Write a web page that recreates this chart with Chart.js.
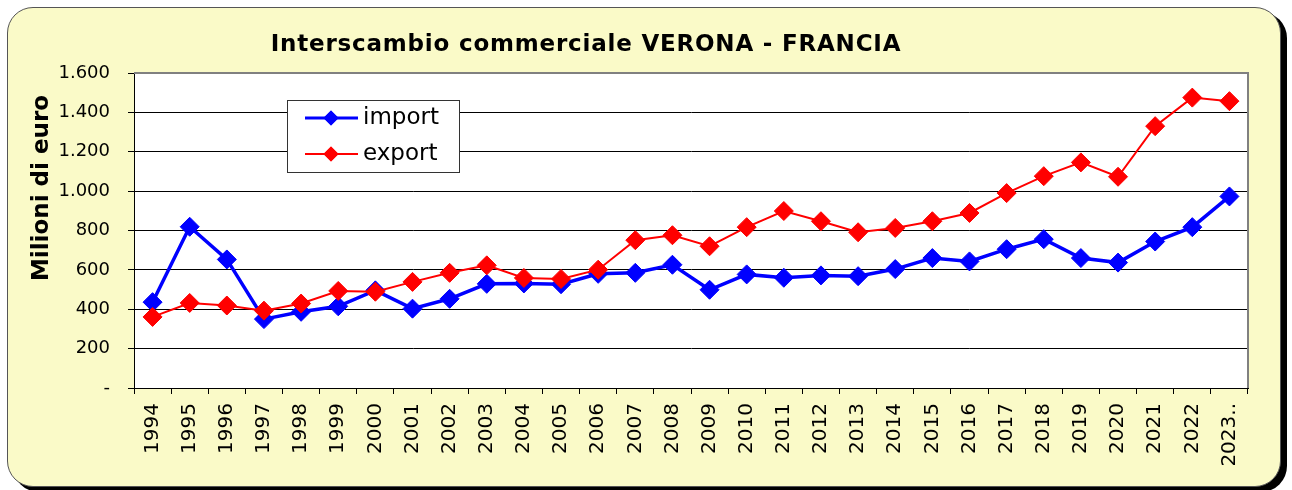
<!DOCTYPE html>
<html>
<head>
<meta charset="utf-8">
<script src="https://cdn.jsdelivr.net/npm/chart.js@4.4.1/dist/chart.umd.min.js"></script>
<style>
  html, body { margin: 0; padding: 0; background: #fff; }
  #frame {
    position: absolute; left: 7px; top: 7px; width: 1272px; height: 478px;
    background: #fafac8; border: 1px solid #555; border-radius: 26px;
    box-shadow: 6px 5px 0 #000;
  }
  #wrap { position: absolute; left: 0; top: 0; width: 1292px; height: 490px; }
</style>
</head>
<body>
<div id="frame"></div>
<div id="wrap"><canvas id="chart" width="1292" height="490"></canvas></div>
<script>
// --- data ---
const years = ['1994', '1995', '1996', '1997', '1998', '1999', '2000', '2001', '2002', '2003',
  '2004', '2005', '2006', '2007', '2008', '2009', '2010', '2011', '2012', '2013',
  '2014', '2015', '2016', '2017', '2018', '2019', '2020', '2021', '2022', '2023..'];

const importValues = [436, 819, 653, 350, 387, 415, 496, 403, 453, 529,
  531, 527, 580, 585, 626, 499, 577, 560, 572, 568,
  604, 660, 643, 705, 756, 660, 637, 744, 817, 973];

const exportValues = [361, 432, 419, 393, 429, 493, 489, 539, 585, 623,
  559, 554, 601, 751, 776, 720, 817, 899, 847, 791,
  813, 847, 889, 990, 1076, 1146, 1073, 1330, 1475, 1457];

const seriesNames = ['import', 'export'];
const seriesColors = ['#0000ff', '#ff0000'];

const chartTitle = 'Interscambio commerciale VERONA - FRANCIA';
const yTitle = 'Milioni di euro';

const FONT = 'DejaVu Sans, Verdana, sans-serif';

function itNumber(v) {
  if (v === 0) return '-';
  return String(v).replace(/\B(?=(\d{3})+(?!\d))/g, '.');
}

// white plot area + grey frame on top/right
const plotArea = {
  id: 'plotArea',
  beforeDraw(chart) {
    const { ctx, chartArea: a } = chart;
    ctx.save();
    ctx.fillStyle = '#fff';
    ctx.fillRect(a.left, a.top, a.right - a.left, a.bottom - a.top);
    ctx.restore();
  },
  beforeDatasetsDraw(chart) {
    const { ctx, chartArea: a } = chart;
    ctx.save();
    ctx.strokeStyle = '#808080';
    ctx.lineWidth = 2;
    ctx.beginPath();
    ctx.moveTo(a.left, a.top);
    ctx.lineTo(a.right, a.top);
    ctx.lineTo(a.right, a.bottom);
    ctx.stroke();
    ctx.restore();
  }
};

// titles: chart title is letter-spaced and off-centre, y title sits high
const titles = {
  id: 'titles',
  afterDraw(chart) {
    const ctx = chart.ctx;
    ctx.save();
    ctx.fillStyle = '#000';
    ctx.textAlign = 'center';
    ctx.textBaseline = 'middle';
    ctx.font = 'bold 23px ' + FONT;
    ctx.letterSpacing = '0.8px';
    ctx.fillText(chartTitle, 586, 45);
    ctx.letterSpacing = '0px';
    ctx.translate(42, 188);
    ctx.rotate(-Math.PI / 2);
    ctx.font = 'bold 23px ' + FONT;
    ctx.fillText(yTitle, 0, 0);
    ctx.restore();
  }
};

// boxed legend inside the plot
const boxLegend = {
  id: 'boxLegend',
  afterDraw(chart) {
    const ctx = chart.ctx;
    const x = 287, y = 100, w = 172, h = 72;
    ctx.save();
    ctx.fillStyle = '#fff';
    ctx.fillRect(x, y, w, h);
    ctx.strokeStyle = '#333';
    ctx.lineWidth = 1;
    ctx.strokeRect(x + 0.5, y + 0.5, w, h);
    seriesNames.forEach((name, i) => {
      const cy = 118 + i * 36;
      ctx.strokeStyle = seriesColors[i];
      ctx.lineWidth = i === 0 ? 3 : 2;
      ctx.beginPath();
      ctx.moveTo(305, cy);
      ctx.lineTo(358, cy);
      ctx.stroke();
      ctx.fillStyle = seriesColors[i];
      Chart.helpers.drawPoint(ctx, { pointStyle: 'rectRot', radius: 7.5, borderWidth: 0 }, 331, cy);
      ctx.fill();
      ctx.fillStyle = '#000';
      ctx.font = '23px ' + FONT;
      ctx.textBaseline = 'middle';
      ctx.textAlign = 'left';
      ctx.fillText(name, 363, cy);
    });
    ctx.restore();
  }
};

new Chart(document.getElementById('chart'), {
  type: 'line',
  data: {
    labels: years,
    datasets: [
      {
        label: seriesNames[0],
        data: importValues,
        borderColor: seriesColors[0],
        backgroundColor: seriesColors[0],
        borderWidth: 3.5,
        pointStyle: 'rectRot',
        pointRadius: 9.5,
        pointBorderWidth: 1,
        order: 1,
      },
      {
        label: seriesNames[1],
        data: exportValues,
        borderColor: seriesColors[1],
        backgroundColor: seriesColors[1],
        borderWidth: 2,
        pointStyle: 'rectRot',
        pointRadius: 9.5,
        pointBorderWidth: 1,
        order: 0,
      },
    ],
  },
  options: {
    responsive: false,
    animation: false,
    layout: { padding: { left: 0, right: 44, top: 73, bottom: 0 }, autoPadding: false },
    plugins: {
      legend: { display: false },
      tooltip: { enabled: false },
      title: { display: false },
    },
    scales: {
      x: {
        offset: true,
        afterFit(scale) { scale.height = 102; },
        grid: { offset: true, drawOnChartArea: false, tickLength: 6, color: '#000' },
        border: { color: '#000', width: 1 },
        ticks: {
          autoSkip: false, minRotation: 90, maxRotation: 90, padding: 9,
          color: '#000', font: { family: FONT, size: 20 },
        },
      },
      y: {
        min: 0, max: 1600,
        afterFit(scale) { scale.width = 134; },
        grid: { color: '#000', lineWidth: 1, tickLength: 6 },
        border: { color: '#000', width: 1 },
        ticks: {
          stepSize: 200, padding: 18, color: '#000',
          font: { family: FONT, size: 18 },
          callback: v => itNumber(v),
        },
      },
    },
  },
  plugins: [plotArea, titles, boxLegend],
});
</script>
</body>
</html>
